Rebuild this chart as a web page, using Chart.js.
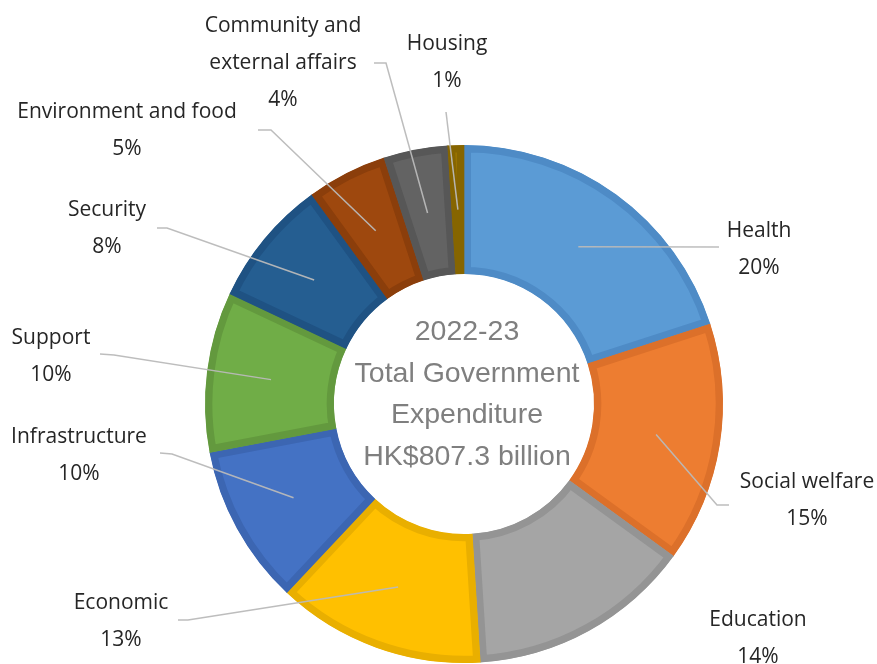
<!DOCTYPE html>
<html>
<head>
<meta charset="utf-8">
<script src="https://cdn.jsdelivr.net/npm/chart.js@4"></script>
<style>
  html, body { margin: 0; padding: 0; background: #fff; }
  #wrap { width: 877px; height: 664px; position: relative; }
</style>
</head>
<body>
<div id="wrap"><canvas id="spendChart" width="877" height="664"></canvas></div>
<script>
// 2022-23 spending by policy area, share of the total (%)
const categories = ["Health", "Social welfare", "Education", "Economic", "Infrastructure",
  "Support", "Security", "Environment and food", "Community and external affairs", "Housing"];
const shares = [20, 15, 14, 13, 10, 10, 8, 5, 4, 1];

// how each category name wraps in its label
const nameLines = [["Health"], ["Social welfare"], ["Education"], ["Economic"], ["Infrastructure"],
  ["Support"], ["Security"], ["Environment and food"], ["Community and", "external affairs"], ["Housing"]];

const centreText = ["2022-23", "Total Government", "Expenditure", "HK$807.3 billion"];

const fills = ["#5B9BD5", "#ED7D31", "#A5A5A5", "#FFC000", "#4472C4",
  "#70AD47", "#255E91", "#9E480E", "#636363", "#997300"];
const edges = ["#4E8BC6", "#DC702A", "#949494", "#E9AF00", "#3C66B2",
  "#63993E", "#1F5283", "#8B3E0B", "#575757", "#866500"];

// label placement: centre x, first line y, then leader points from label towards slice
const labelPos = [
  { x: 759, y: 231, leader: [[719, 247]] },
  { x: 807, y: 482, leader: [[729, 505], [717, 505]] },
  { x: 758, y: 620, leader: null },
  { x: 121, y: 603, leader: [[178, 620], [188, 620]] },
  { x: 79, y: 437, leader: [[160, 453], [172, 454]] },
  { x: 51, y: 338, leader: [[100, 354], [114, 355]] },
  { x: 107, y: 210, leader: [[157, 228], [167, 228]] },
  { x: 127, y: 112, leader: [[258, 130], [271, 130]] },
  { x: 283, y: 26, leader: [[374, 63], [386, 63]] },
  { x: 447, y: 44, leader: [[446, 112]] }
];
const lineGap = 37;

const labelsPlugin = {
  id: "outsideLabels",
  afterDraw(chart) {
    const ctx = chart.ctx;
    const arcs = chart.getDatasetMeta(0).data;
    ctx.save();

    // leader lines from label to slice centre
    ctx.strokeStyle = "rgba(185,185,185,0.95)";
    ctx.lineWidth = 1.5;
    arcs.forEach((arc, i) => {
      const pos = labelPos[i];
      if (!pos.leader) return;
      const c = arc.tooltipPosition(true);
      ctx.beginPath();
      ctx.moveTo(pos.leader[0][0], pos.leader[0][1]);
      pos.leader.slice(1).forEach(p => ctx.lineTo(p[0], p[1]));
      ctx.lineTo(c.x, c.y);
      ctx.stroke();
    });

    // category name + percentage
    ctx.fillStyle = "#262626";
    ctx.font = "21px 'Open Sans', sans-serif";
    ctx.textAlign = "center";
    ctx.textBaseline = "middle";
    arcs.forEach((arc, i) => {
      const pos = labelPos[i];
      const lines = nameLines[i].concat([shares[i] + "%"]);
      lines.forEach((t, k) => ctx.fillText(t, pos.x, pos.y + k * lineGap));
    });

    // text in the hole
    const c0 = arcs[0];
    ctx.fillStyle = "#7F7F7F";
    ctx.font = "28.5px 'Liberation Sans', Arial, sans-serif";
    centreText.forEach((t, k) => ctx.fillText(t, c0.x + 3, 332 + k * 41.7));
    ctx.restore();
  }
};

new Chart(document.getElementById("spendChart"), {
  type: "doughnut",
  data: {
    labels: categories,
    datasets: [{
      data: shares,
      backgroundColor: fills,
      borderColor: edges,
      borderWidth: 7,
      borderAlign: "inner",
      borderJoinStyle: "miter"
    }]
  },
  options: {
    responsive: false,
    animation: false,
    cutout: 130,
    radius: 259,
    layout: { padding: { left: 205, right: 154, top: 145, bottom: 1 } },
    plugins: {
      legend: { display: false },
      tooltip: { enabled: false }
    }
  },
  plugins: [labelsPlugin]
});
</script>
</body>
</html>
